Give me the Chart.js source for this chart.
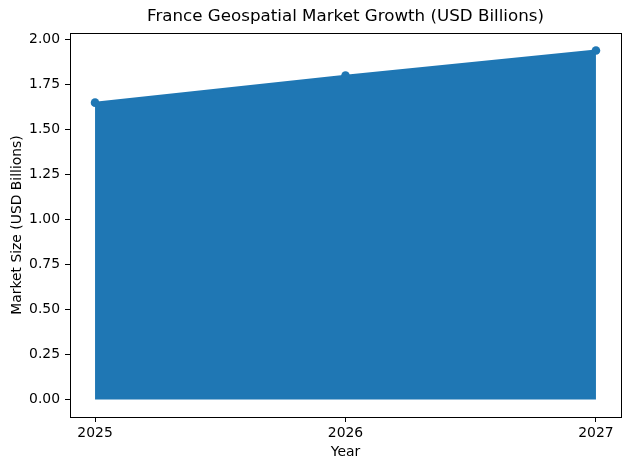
<!DOCTYPE html>
<html>
<head>
<meta charset="utf-8">
<script src="https://cdn.jsdelivr.net/npm/chart.js@4/dist/chart.umd.min.js"></script>
<style>
  body { margin: 0; background: #fff; }
  canvas { display: block; }
</style>
</head>
<body>
<canvas id="grafico" width="630" height="470"></canvas>
<script>
// dados do gráfico
const anos = [2025, 2026, 2027];
const tamanhoMercado = [1.65, 1.80, 1.94];
const ticksY = [0, 0.25, 0.5, 0.75, 1.0, 1.25, 1.5, 1.75, 2.0];
const titulo = "France Geospatial Market Growth (USD Billions)";

const azul = "#1f77b4";
const fonte = "DejaVu Sans";

// moldura completa + título, estilo matplotlib
const moldura = {
  id: "moldura",
  afterDraw(chart) {
    const { ctx, chartArea: a } = chart;
    ctx.save();
    ctx.strokeStyle = "#000";
    ctx.lineWidth = 1;
    ctx.strokeRect(Math.round(a.left) + 0.5, Math.round(a.top) + 0.5,
      Math.round(a.right - a.left), Math.round(a.bottom - a.top));
    ctx.fillStyle = "#000";
    ctx.font = "16.7px '" + fonte + "'";
    ctx.textAlign = "center";
    ctx.textBaseline = "middle";
    ctx.fillText(titulo, (a.left + a.right) / 2, 17);
    ctx.restore();
  }
};

const ctx = document.getElementById("grafico").getContext("2d");
new Chart(ctx, {
  type: "line",
  data: {
    datasets: [{
      label: "Market Size",
      data: anos.map((a, i) => ({ x: a, y: tamanhoMercado[i] })),
      borderColor: azul,
      backgroundColor: azul,
      fill: "origin",
      borderWidth: 2,
      tension: 0,
      pointRadius: 4.3,
      pointBackgroundColor: azul,
      pointBorderWidth: 0
    }]
  },
  options: {
    responsive: false,
    animation: false,
    layout: { padding: { top: 33, right: 9, left: 0, bottom: 0 } },
    plugins: {
      legend: { display: false },
      tooltip: { enabled: false }
    },
    scales: {
      x: {
        type: "linear",
        min: 2024.9,
        max: 2027.1,
        afterBuildTicks: s => { s.ticks = anos.map(v => ({ value: v })); },
        afterFit: s => { s.height = 53; },
        grid: { display: true, drawOnChartArea: false, drawTicks: true, tickLength: 5, color: "#000" },
        border: { display: true, color: "#000" },
        ticks: {
          color: "#000",
          padding: 3,
          font: { family: fonte, size: 13.9 },
          maxRotation: 0,
          callback: v => String(v)
        },
        title: {
          display: true,
          text: "Year",
          color: "#000",
          font: { family: fonte, size: 13.9 },
          padding: { top: 0, bottom: 9.5 }
        }
      },
      y: {
        min: -0.097,
        max: 2.037,
        afterBuildTicks: s => { s.ticks = ticksY.map(v => ({ value: v })); },
        afterFit: s => { s.width = 70; },
        grid: { display: true, drawOnChartArea: false, drawTicks: true, tickLength: 5, color: "#000" },
        border: { display: true, color: "#000" },
        ticks: {
          color: "#000",
          padding: 5,
          font: { family: fonte, size: 13.9 },
          callback: v => v.toFixed(2)
        },
        title: {
          display: true,
          text: "Market Size (USD Billions)",
          color: "#000",
          font: { family: fonte, size: 13.9 },
          padding: { top: 9, bottom: 0 }
        }
      }
    }
  },
  plugins: [moldura]
});
</script>
</body>
</html>
